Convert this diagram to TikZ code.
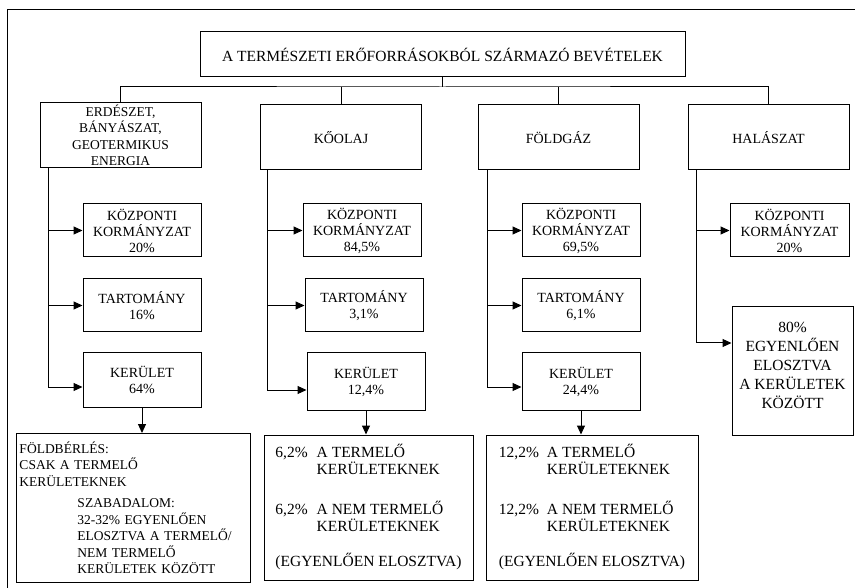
\documentclass[tikz,border=0pt]{standalone}
\usepackage{fontspec}
\setmainfont{Liberation Serif}
\usetikzlibrary{arrows.meta, positioning}

\begin{document}
\begin{tikzpicture}[x=1pt, y=-1pt,
    box/.style={draw, line width=1pt, inner sep=0pt, align=center},
    link/.style={line width=1pt},
    arr/.style={line width=1pt, -{Triangle[length=9pt, width=8pt]}},
    lvlone/.style={box, minimum width=161pt, minimum height=65pt, font=\fontsize{14}{16.5}\selectfont},
    lvltwo/.style={box, minimum width=118pt, minimum height=53pt, font=\fontsize{14}{16}\selectfont},
    share/.style={box, minimum height=145pt, font=\fontsize{15.5}{17}\selectfont}]
    \useasboundingbox (0,0) rectangle (855,588);
    % Frame
    \coordinate (fa) at (7,588);
    \coordinate (fb) at (855,10);
    \draw[link] (fa) |- (fb);

    % Title
    \node[box, minimum width=485pt, minimum height=45pt, font=\fontsize{15.5}{18}\selectfont] (title) at (442.5,54.5) {A TERMÉSZETI ERŐFORRÁSOKBÓL SZÁRMAZÓ BEVÉTELEK};

    % Resources
    \node[lvlone, font=\fontsize{13.5}{16.5}\selectfont] (erd) at (120.5,135.5) {ERDÉSZET,\\BÁNYÁSZAT,\\GEOTERMIKUS\\ENERGIA};
    \node[lvlone] (kool) at (341,137.5) {KŐOLAJ};
    \node[lvlone] (fold) at (558.5,137.5) {FÖLDGÁZ};
    \node[lvlone] (hal) at (768.5,137.5) {HALÁSZAT};

    \coordinate (bus) at (442.5,87);
    \draw[link] (title.south) -- (bus);
    \draw[link] (erd.north) |- (bus) -| (hal.north);
    \draw[link] (kool.north) -- (kool.north |- bus);
    \draw[link] (fold.north) -- (fold.north |- bus);

    % Shares: erdeszet
    \node[lvltwo] (kp1) at (142,230.5) {KÖZPONTI\\KORMÁNYZAT\\20\%};
    \node[lvltwo] (ta1) at (142,305.5) {TARTOMÁNY\\16\%};
    \node[lvltwo, minimum height=54pt] (ke1) at (142,380) {KERÜLET\\64\%};
    % Shares: koolaj
    \node[lvltwo] (kp2) at (362,230.5) {KÖZPONTI\\KORMÁNYZAT\\84,5\%};
    \node[lvltwo] (ta2) at (364,305.5) {TARTOMÁNY\\3,1\%};
    \node[lvltwo, minimum height=57pt] (ke2) at (366,381.5) {KERÜLET\\12,4\%};
    % Shares: foldgaz
    \node[lvltwo] (kp3) at (581,230.5) {KÖZPONTI\\KORMÁNYZAT\\69,5\%};
    \node[lvltwo] (ta3) at (581,305.5) {TARTOMÁNY\\6,1\%};
    \node[lvltwo, minimum height=57pt] (ke3) at (581,381.5) {KERÜLET\\24,4\%};
    % Shares: halaszat
    \node[lvltwo, minimum width=119pt] (kp4) at (789.5,230.5) {KÖZPONTI\\KORMÁNYZAT\\20\%};
    \node[box, minimum width=121pt, minimum height=128pt, font=\fontsize{15.5}{19}\selectfont] (ek4) at (792.5,371) {80\%\\EGYENLŐEN\\ELOSZTVA\\A KERÜLETEK\\KÖZÖTT\\[-8pt]};

    % Trunks
    \coordinate (t1) at (48,387);
    \coordinate (t2) at (267,390);
    \coordinate (t3) at (487,387);
    \coordinate (t4) at (696,343);
    \draw[link] (erd.south -| t1) -- (t1);
    \draw[link] (kool.south -| t2) -- (t2);
    \draw[link] (fold.south -| t3) -- (t3);
    \draw[link] (hal.south -| t4) -- (t4);

    \draw[arr] (kp1.west -| t1) -- (kp1.west);
    \draw[arr] (ta1.west -| t1) -- (ta1.west);
    \draw[arr] (t1) -- (t1 -| ke1.west);
    \draw[arr] (kp2.west -| t2) -- (kp2.west);
    \draw[arr] (ta2.west -| t2) -- (ta2.west);
    \draw[arr] (t2) -- (t2 -| ke2.west);
    \draw[arr] (kp3.west -| t3) -- (kp3.west);
    \draw[arr] (ta3.west -| t3) -- (ta3.west);
    \draw[arr] (t3) -- (t3 -| ke3.west);
    \draw[arr] (kp4.west -| t4) -- (kp4.west);
    \draw[arr] (t4) -- (t4 -| ek4.west);

    % District splits
    \node[box, anchor=north west, text width=228pt, inner xsep=3pt, minimum height=149pt, align=left, font=\fontsize{13.5}{16.5}\selectfont] (b1) at (16,433) {FÖLDBÉRLÉS:\\CSAK A TERMELŐ\\KERÜLETEKNEK\\[5pt]\hspace*{58pt}SZABADALOM:\\\hspace*{58pt}32-32\% EGYENLŐEN\\\hspace*{58pt}ELOSZTVA A TERMELŐ/\\\hspace*{58pt}NEM TERMELŐ\\\hspace*{58pt}KERÜLETEK KÖZÖTT};
    \node[share, minimum width=209pt] (b2) at (368.5,507.5) {\begin{tabular}{@{}r@{\hspace{9pt}}l@{}}
        6,2\% & A TERMELŐ\\
         & KERÜLETEKNEK\\[21pt]
        6,2\% & A NEM TERMELŐ\\
         & KERÜLETEKNEK\\[16pt]
        \multicolumn{2}{@{}c@{}}{(EGYENLŐEN ELOSZTVA)}
    \end{tabular}};
    \node[share, minimum width=212pt] (b3) at (592,507.5) {\begin{tabular}{@{}r@{\hspace{8pt}}l@{}}
        12,2\% & A TERMELŐ\\
         & KERÜLETEKNEK\\[21pt]
        12,2\% & A NEM TERMELŐ\\
         & KERÜLETEKNEK\\[16pt]
        \multicolumn{2}{@{}c@{}}{(EGYENLŐEN ELOSZTVA)}
    \end{tabular}};

    \draw[arr] (ke1.south) -- (ke1.south |- b1.north);
    \draw[arr] (ke2.south) -- (ke2.south |- b2.north);
    \draw[arr] (ke3.south) -- (ke3.south |- b3.north);
\end{tikzpicture}
\end{document}
